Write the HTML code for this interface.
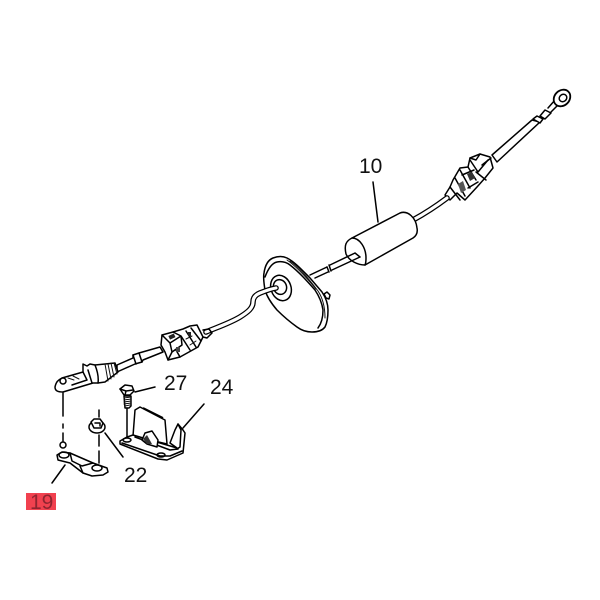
<!DOCTYPE html>
<html><head><meta charset="utf-8"><style>
html,body{margin:0;padding:0;background:#fff}
svg{display:block}
text{font-family:"Liberation Sans",sans-serif;font-size:21px;fill:#111}
.l{fill:none;stroke:#000;stroke-width:1.5;stroke-linejoin:round;stroke-linecap:round}
.t{fill:none;stroke:#111;stroke-width:1;stroke-linejoin:round;stroke-linecap:round}
.w{fill:#fff;stroke:#000;stroke-width:1.5;stroke-linejoin:round}
.c{fill:none;stroke:#000;stroke-width:5.6;stroke-linecap:round;stroke-linejoin:round}
.ci{fill:none;stroke:#fff;stroke-width:3.1;stroke-linecap:round;stroke-linejoin:round}
</style></head><body>
<svg width="600" height="600" viewBox="0 0 600 600" xmlns="http://www.w3.org/2000/svg">
<rect width="600" height="600" fill="#fff"/>

<!-- top-right rod and eyelet -->
<path class="w" d="M492 155L532 120L540 122L497 162Z"/>
<path class="w" d="M533 119L537 116L543 119L540 123Z"/>
<path class="w" d="M540 116L545 110L551 113L545 119Z"/>
<path class="l" d="M548 108L555 100M551 112L558 105"/>
<ellipse class="w" cx="562" cy="98" rx="9" ry="7.5" transform="rotate(-45 562 98)" style="stroke-width:1.8"/>
<ellipse class="l" cx="563" cy="98" rx="4" ry="3.5" transform="rotate(-40 563 98)"/>

<!-- right connector -->
<path class="w" d="M450 187L453 180L460 168L468 167L470 158L480 154L490 157L493 168L485 178L477 187L465 200L457 193L450 200L445 195Z"/>
<path class="l" d="M470 160L478 172L488 160M468 167L476 180M460 170L470 188M455 178L465 196M450 187L460 200M476 172L486 180M462 175L474 170M468 188L478 182"/>
<path class="l" d="M480 154L476 160L470 158M482 165L491 158"/>
<path d="M467 174L472 172L475 178L470 181Z" fill="#333"/>
<path d="M458 184L463 181L466 190L461 193Z" fill="#555"/>

<!-- cable 10 to connector -->
<path class="c" d="M413 220C424 214 435 207 447 198"/>
<path class="ci" d="M413 220C424 214 435 207 447 198"/>

<!-- cylinder -->
<path class="w" d="M352 238L400 213C408 210 416 218 417 228C418 233 416 236 413 238L365 265C358 265 349 261 346 254C344 245 346 241 352 238Z"/>
<path class="l" d="M352 238C360 238 366 248 366 258C366 261 366 263 365 265"/>

<!-- cable from cylinder to plate -->
<path class="l" d="M355 253L330 265M360 257L332 270M355 253L360 257"/>
<path class="l" d="M329 265L331 271M327 267L329 272"/>
<path class="l" d="M327 267L310 275M328 272L315 278"/>

<!-- plate -->
<path class="w" d="M273 258C278 256 283 256 287 258C295 262 303 271 310 278L322 292C326 298 328 304 328 310C328 318 327 323 325 327C322 331 317 332 312 332C306 332 301 330 297 327C290 322 283 316 277 310C271 303 267 297 265 290C264 284 263 278 264 273C265 266 268 260 273 258Z"/>
<path class="l" d="M265 277C268 269 272 263 277 262C282 261 286 262 290 265C299 272 307 281 315 290C319 296 322 303 323 310C323 318 321 324 318 328"/>
<path class="t" d="M290 261C299 267 309 279 318 291C322 297 325 305 325 318M287 260C296 266 306 277 316 289"/>
<ellipse class="l" cx="281" cy="288" rx="10" ry="13" transform="rotate(-20 281 288)"/>
<ellipse class="l" cx="280" cy="287" rx="6.5" ry="7.5" transform="rotate(-20 280 287)"/>
<path class="w" d="M324 294L327 292L330 295L329 299L326 298Z"/>

<!-- bent cable through plate -->
<path class="c" d="M276 288C270 289 265 291 260 293C255 295 253 298 253 302C253 308 248 312 240 317C230 323 218 327 206 332"/>
<path class="ci" d="M276 288C270 289 265 291 260 293C255 295 253 298 253 302C253 308 248 312 240 317C230 323 218 327 206 332"/>

<!-- left centre connector -->
<path class="w" d="M162 335L173 332L183 329L190 326L197 325L203 337L198 347L180 357L168 360L165 352L161 345Z"/>
<path class="l" d="M162 335L170 343L181 336L173 332M170 343L172 352L182 345L181 336M172 352L168 360M181 336L190 350M186 331L196 347M191 328L201 341M176 350L180 357"/>
<path class="t" d="M186 339L192 336M190 345L196 341"/>
<rect x="169" y="335" width="6" height="4" fill="#222" transform="rotate(-25 171 337)"/>
<rect x="176" y="347" width="4" height="5" fill="#444"/>
<rect x="188" y="332" width="3" height="4" fill="#222"/>
<path class="l" d="M203 330L209 329L212 333L207 338L203 337"/>

<!-- rod left -->
<path class="w" d="M117 365L133 358L133 355L139 353L160 347L163 352L143 360L142 362L135 364L117 372Z"/>
<path class="l" d="M133 355L136 364M139 353L142 362"/>

<!-- left rod end / boot -->
<path class="w" d="M95 365L105 364L115 363L118 372L105 382L98 383Z"/>
<path class="t" d="M105 364L108 381M108 364L111 379M111 363L114 377M114 363L117 374"/>
<path class="w" d="M55 387C56 382 58 380 62 378L83 372L83 364L87 366L90 364L95 365C97 370 99 376 98 383L93 383L63 392C58 392 55 391 55 387Z"/>
<path class="l" d="M88 370L92 383M83 372L87 380L72 385"/>
<circle class="w" cx="63" cy="381" r="3"/>
<path class="t" d="M68 378L74 380M73 376L79 379"/>

<!-- dashed line 19 -->
<path class="l" d="M63 393V416M63 424V428M63 433V441"/>
<circle class="w" cx="63" cy="445" r="3"/>

<!-- lever 19 -->
<path class="w" d="M57 455L62 452L70 453L93 463L107 468L108 472L103 475L92 476L83 473L70 463L58 460Z"/>
<ellipse class="l" cx="64" cy="455" rx="5" ry="3"/>
<path class="l" d="M70 453L72 461L82 466L93 463M83 473L80 466"/>
<ellipse class="l" cx="97" cy="468" rx="5" ry="3"/>

<!-- nut 22 -->
<path class="l" d="M99 410V417M99 435V446M99 451V463"/>
<ellipse class="w" cx="97" cy="427" rx="8" ry="6"/>
<path class="w" d="M91 422L94 419L100 419L103 423L101 428L94 428Z"/>
<path class="l" d="M95 423L100 423L100 426"/>

<!-- bolt 27 -->
<path class="w" d="M120 389L125 385L132 386L134 391L130 395L124 395Z"/>
<path class="l" d="M120 389L126 391L133 390M126 391L125 395"/>
<path class="w" d="M124 396H131V406L129 408H125Z"/>
<path class="t" d="M124 398L131 397M124 400L131 399M124 402L131 401M124 404L131 403M125 406L130 405"/>
<path class="l" d="M127 408V437"/>

<!-- bracket 24 -->
<path class="w" d="M133 436L135 410L140 407L165 420L167 444Z"/>
<path d="M143 408L163 418" stroke="#000" stroke-width="2" fill="none"/>
<path class="w" d="M120 441L127 437L133 435L177 448L170 443L175 430L178 424L183 430L185 433L183 453L167 460L158 459L120 444Z"/>
<path class="l" d="M178 424L181 430L180 447L177 449"/>
<path class="l" d="M135 437L170 450L178 449M122 443L160 456L170 456L182 451"/>
<path class="w" d="M142 440L145 433L152 431L158 440L157 447L147 444Z"/>
<path d="M143 439L147 435L152 444L147 444Z" fill="#333"/>
<ellipse class="l" cx="127" cy="440" rx="4" ry="2"/>
<ellipse class="l" cx="161" cy="455" rx="4" ry="2"/>

<!-- leader lines -->
<path class="l" d="M373 182L378 222"/>
<path class="l" d="M135 392L155 387"/>
<path class="l" d="M183 428L204 404"/>
<path class="l" d="M105 433L123 457"/>
<path class="l" d="M52 483L65 465"/>

<!-- labels -->
<text x="359" y="173">10</text>
<text x="164" y="390">27</text>
<text x="210" y="394">24</text>
<text x="124" y="482">22</text>
<rect x="26" y="493" width="30" height="17" fill="#f1414f"/>
<text x="30" y="509" style="fill:#8f2530">19</text>
</svg>
</body></html>
